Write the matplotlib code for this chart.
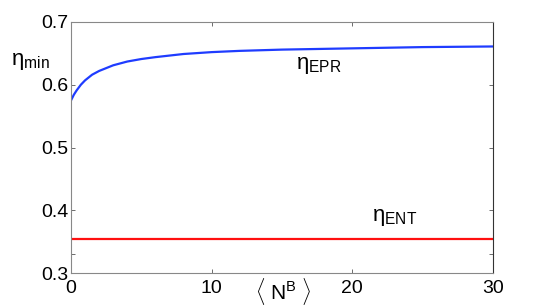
import matplotlib
matplotlib.use('Agg')
import matplotlib.pyplot as plt

plt.rcParams['font.family'] = ['Liberation Sans', 'DejaVu Sans']
plt.rcParams['mathtext.fontset'] = 'custom'
plt.rcParams['mathtext.rm'] = 'Liberation Sans'
plt.rcParams['mathtext.it'] = 'Liberation Sans'

# mean thermal photon number <N^B>
nb_epr = [0, 0.2, 0.4, 0.7, 1, 1.5, 2, 3, 4, 5, 6, 8, 10, 12, 15, 20, 25, 30]
# eta_min for EPR steering
eta_epr = [0.575, 0.584, 0.591, 0.600, 0.607, 0.616, 0.622, 0.631, 0.637,
           0.641, 0.644, 0.649, 0.652, 0.654, 0.656, 0.658, 0.660, 0.661]
# eta_min for entanglement (flat)
nb_ent = [0, 10, 20, 30]
eta_ent = [0.354, 0.354, 0.354, 0.354]

yticks = [0.3, 0.33, 0.4, 0.5, 0.6, 0.7]
ylabels = ['0.3', '', '0.4', '0.5', '0.6', '0.7']
xticks = [0, 10, 20, 30]

fig = plt.figure(figsize=(5.45, 3.07), dpi=100)
ax = fig.add_axes([71/545, 1 - 273/307, (493 - 71)/545, (273 - 22)/307])

ax.plot(nb_epr, eta_epr, color='#1f3cff', lw=1.6)
ax.plot(nb_ent, eta_ent, color='#ff1010', lw=1.6)

ax.set_xlim(0, 30)
ax.set_ylim(0.3, 0.7)
ax.set_xticks(xticks)
ax.set_yticks(yticks)
ax.set_yticklabels(ylabels)
ax.tick_params(direction='in', length=3, width=0.6, labelsize=14,
               top=True, right=True, color='#555555')
ax.tick_params(axis='x', pad=5)
ax.tick_params(axis='y', pad=2)
for s in ['left', 'bottom', 'top']:
    ax.spines[s].set_color('#888888')
ax.spines['right'].set_color('#333333')
for s in ax.spines.values():
    s.set_linewidth(0.8)

fig.text(11/545, 1 - 62/307, r'$\mathregular{\eta_{min}}$', fontsize=16, va='center')
ax.text(16.0, 0.630, r'$\mathregular{\eta_{EPR}}$', fontsize=16, va='center')
ax.text(21.4, 0.388, r'$\mathregular{\eta_{ENT}}$', fontsize=16, va='center')
ax.text(15.1, 0.271, r'$\langle\ \mathregular{N^B}\ \rangle$', fontsize=15,
        ha='center', va='center')

fig.savefig('out.png', dpi=100)
